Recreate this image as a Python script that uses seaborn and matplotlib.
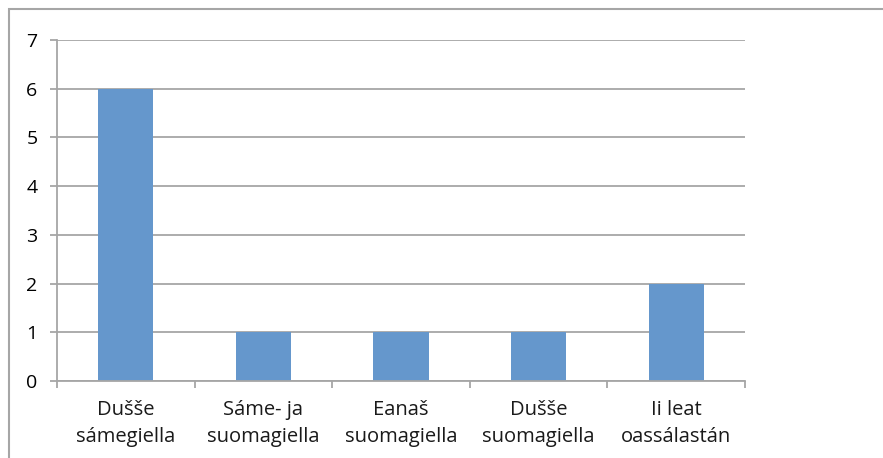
import seaborn as sns
import matplotlib.pyplot as plt
from matplotlib.patches import Rectangle
from matplotlib.ticker import FixedLocator

#--------data---------------
categories = ['Dušše\nsámegiella', 'Sáme- ja\nsuomagiella', 'Eanaš\nsuomagiella',
              'Dušše\nsuomagiella', 'Ii leat\noassálastán']
counts = [6, 1, 1, 1, 2]
yticks = [0, 1, 2, 3, 4, 5, 6, 7]

bar_color = '#6597CC'
grid_color = '#A6A6A6'

sns.set_style('white')
plt.rcParams['font.family'] = ['Open Sans', 'DejaVu Sans']

fig = plt.figure(figsize=(8.83, 4.58), dpi=100)
ax = fig.add_axes([57 / 883, 1 - 381 / 458, (745 - 57) / 883, (381 - 40) / 458])

sns.barplot(x=categories, y=counts, color=bar_color, width=0.4, saturation=1,
            linewidth=0, ax=ax)

ax.set_ylim(0, 7)
ax.set_xlim(-0.5, len(categories) - 0.5)
ax.set_yticks(yticks)
ax.yaxis.grid(True, color=grid_color, lw=1.3)
ax.set_axisbelow(True)

for s in ['top', 'right']:
    ax.spines[s].set_visible(False)
for s in ['left', 'bottom']:
    ax.spines[s].set_color(grid_color)
    ax.spines[s].set_linewidth(1.3)

ax.tick_params(axis='y', length=5, width=1.3, color=grid_color, pad=9,
               labelsize=14, labelcolor='black', left=True)
ax.tick_params(axis='x', which='major', length=0, pad=14, labelsize=14.5, labelcolor='#1a1a1a')
for lbl in ax.get_xticklabels():
    lbl.set_linespacing(1.45)
ax.xaxis.set_minor_locator(FixedLocator([i - 0.5 for i in range(len(categories) + 1)]))
ax.tick_params(axis='x', which='minor', length=5, width=1.3, color=grid_color, bottom=True)

# outer chart border like a spreadsheet chart frame
fig.patches.append(Rectangle((9 / 883, -0.1), 2, 1 - 9 / 458 + 0.1, transform=fig.transFigure,
                             fill=False, edgecolor=grid_color, lw=1.5))

plt.savefig('out.png', dpi=100)
